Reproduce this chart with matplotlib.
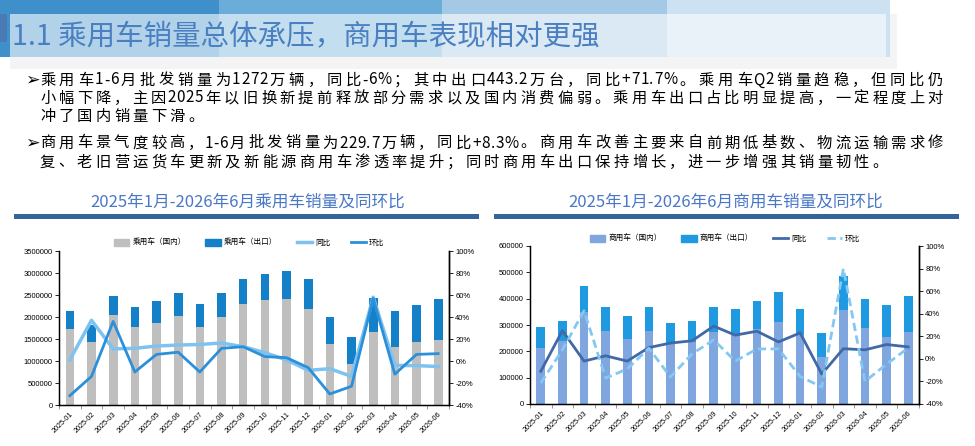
import numpy as np
import matplotlib
matplotlib.use('Agg')
import matplotlib.pyplot as plt
from matplotlib.patches import Rectangle, Patch
from matplotlib.lines import Line2D
from matplotlib.ticker import FuncFormatter, MultipleLocator

plt.rcParams['font.family'] = ['Noto Sans CJK SC', 'DejaVu Sans']
plt.rcParams['axes.unicode_minus'] = False

# ---- data ----
months = ['2025-01', '2025-02', '2025-03', '2025-04', '2025-05', '2025-06',
          '2025-07', '2025-08', '2025-09', '2025-10', '2025-11', '2025-12',
          '2026-01', '2026-02', '2026-03', '2026-04', '2026-05', '2026-06']

# 乘用车
pv_domestic = [1727000, 1432000, 2045000, 1773000, 1864000, 2023000, 1773000, 2000000, 2295000,
               2386000, 2409000, 2182000, 1386000, 932000, 1659000, 1318000, 1432000, 1477000]
pv_export = [417000, 379000, 432000, 454000, 500000, 522000, 522000, 545000, 569000,
             591000, 636000, 682000, 614000, 613000, 773000, 818000, 841000, 932000]
pv_yoy = [1, 37, 11, 11.5, 13.6, 14.5, 15, 16.4, 13, 7.6, 1, -8.5, -7, -14, 58, -4, -4.2, -5]
pv_mom = [-31.5, -14, 36, -10, 6, 8, -10, 11.5, 13, 4, 3, -6, -30, -23, 57, -12, 6, 6.7]

# 商用车
cv_domestic = [213000, 240000, 350000, 278000, 248000, 278000, 232000, 236000, 274000,
               267000, 285000, 312000, 263000, 179000, 357000, 289000, 255000, 274000]
cv_export = [80000, 76000, 98000, 91000, 87000, 91000, 76000, 80000, 95000,
             94000, 107000, 114000, 98000, 91000, 129000, 110000, 121000, 136000]
cv_yoy = [-11, 25, -2, 2.7, -2, 10, 14, 16, 29, 21, 24.5, 15, 23, -13.5, 9, 8, 12.7, 10.6]
cv_mom = [-21.5, 8, 42.7, -17, -9, 9.4, -16, 4.4, 16.8, -2, 8.8, 8.8, -15.6, -25, 80, -20, -4.7, 9.7]

title = '1.1 乘用车销量总体承压，商用车表现相对更强'
# (是否带项目符号, 文本, 是否两端对齐)
body = [
    (True, '乘用车1-6月批发销量为1272万辆，同比-6%；其中出口443.2万台，同比+71.7%。乘用车Q2销量趋稳，但同比仍', True),
    (False, '小幅下降，主因2025年以旧换新提前释放部分需求以及国内消费偏弱。乘用车出口占比明显提高，一定程度上对', True),
    (False, '冲了国内销量下滑。', False),
    (True, '商用车景气度较高，1-6月批发销量为229.7万辆，同比+8.3%。商用车改善主要来自前期低基数、物流运输需求修', True),
    (False, '复、老旧营运货车更新及新能源商用车渗透率提升；同时商用车出口保持增长，进一步增强其销量韧性。', False),
]
body_y = [80, 98, 116, 143, 162]

W, H = 975, 446
fig = plt.figure(figsize=(W / 100, H / 100), dpi=100)

# ---- background / header in pixel coords ----
bg = fig.add_axes([0, 0, 1, 1])
bg.set_xlim(0, W)
bg.set_ylim(H, 0)
bg.axis('off')

for x0, x1, c in [(0, 219, '#3f8fca'), (219, 442, '#6badd9'),
                  (442, 667, '#a3c9e6'), (667, 890, '#cce1f1')]:
    bg.add_patch(Rectangle((x0, 0), x1 - x0, 57, color=c, lw=0))
bg.add_patch(Rectangle((10, 57), 887, 12, color='#f4f4f4', lw=0))
bg.add_patch(Rectangle((890, 14), 7, 43, color='#f4f4f4', lw=0))
bg.add_patch(Rectangle((10, 14), 876, 43, color='white', alpha=0.6, lw=0))
bg.add_patch(Rectangle((0, 14), 7, 28, color='#4a7ab3', lw=0))

bg.text(12, 37, title, fontsize=20.5, color='#4a7fc1', va='center', ha='left')

# 正文：逐字排版，两端对齐到 x=40..943（中西文交界处半个间距，西文内部不加）
renderer = fig.canvas.get_renderer()
FS = 11
em = FS * 100 / 72
x_left, x_right = 40, 943


def is_cjk(ch):
    return ord(ch) > 0x2E80


def char_w(ch):
    if is_cjk(ch):
        return em
    t = bg.text(0, 0, ch, fontsize=FS)
    w = t.get_window_extent(renderer).width
    t.remove()
    return w * 1.08


def gap_weight(a, b):
    if is_cjk(a) and is_cjk(b):
        return 1.0
    if is_cjk(a) or is_cjk(b):
        return 0.4
    return 0.0


gap = 0
for (bullet, line, justify), y in zip(body, body_y):
    if bullet:
        bg.text(25, y, '➢', fontsize=12.5, va='center', ha='left', color='black',
                family=['DejaVu Sans'])
    widths = [char_w(ch) for ch in line]
    weights = [gap_weight(a, b) for a, b in zip(line[:-1], line[1:])] + [0.0]
    if justify:
        gap = (x_right - x_left - sum(widths)) / sum(weights)
    xc = x_left
    for ch, w, wt in zip(line, widths, weights):
        bg.text(xc, y, ch, fontsize=FS, va='center', ha='left', color='black')
        xc += w + gap * wt

bg.text(248, 202, '2025年1月-2026年6月乘用车销量及同环比', fontsize=12,
        color='#4a78c6', ha='center', va='center')
bg.text(726, 202, '2025年1月-2026年6月商用车销量及同环比', fontsize=12,
        color='#4a78c6', ha='center', va='center')
bg.add_patch(Rectangle((14, 214), 465, 5, color='#34659a', lw=0))
bg.add_patch(Rectangle((494, 214), 465, 5, color='#34659a', lw=0))


def draw_chart(rect, domestic, export, yoy, mom, ymax, ystep, colors, names,
               mom_dashed, legend_xy):
    ax = fig.add_axes(rect)
    x = np.arange(len(months))
    ax.bar(x, domestic, width=0.4, color=colors[0], zorder=2)
    ax.bar(x, export, width=0.4, bottom=domestic, color=colors[1], zorder=2)
    ax.set_xlim(-0.5, len(months) - 0.5)
    ax.set_ylim(0, ymax)
    ax.yaxis.set_major_locator(MultipleLocator(ystep))
    ax.yaxis.set_major_formatter(FuncFormatter(lambda v, p: f'{int(v)}'))
    ax.set_xticks(x)
    ax.set_xticklabels(months, rotation=45, ha='right', rotation_mode='anchor',
                       fontsize=5.2, family=['Liberation Sans'])
    ax.set_xticks(np.arange(-0.5, len(months), 1), minor=True)
    ax.tick_params(axis='x', which='major', length=0, pad=4)
    ax.tick_params(axis='x', which='minor', length=3, width=0.6, color='#888888')
    ax.tick_params(axis='y', length=3, width=0.6, labelsize=5.5, pad=1.5)
    for lab in ax.get_yticklabels():
        lab.set_family(['Liberation Sans'])
    ax.spines['top'].set_visible(False)
    for s in ['left', 'bottom', 'right']:
        ax.spines[s].set_linewidth(1.0)
        ax.spines[s].set_color('black')

    ax2 = ax.twinx()
    ax2.plot(x, yoy, color=colors[2], lw=colors[4], zorder=3)
    if mom_dashed:
        ax2.plot(x, mom, color=colors[3], lw=2, ls=(0, (3, 1.6)), zorder=3)
    else:
        ax2.plot(x, mom, color=colors[3], lw=2, zorder=3)
    ax2.set_ylim(-40, 100)
    ax2.yaxis.set_major_locator(MultipleLocator(20))
    ax2.yaxis.set_major_formatter(FuncFormatter(lambda v, p: f'{int(round(v))}%'))
    ax2.tick_params(axis='y', length=3, width=0.6, labelsize=5.5, pad=1.5)
    for lab in ax2.get_yticklabels():
        lab.set_family(['Liberation Sans'])
    ax2.spines['top'].set_visible(False)
    ax2.spines['right'].set_linewidth(1.0)

    handles = [Patch(color=colors[0]), Patch(color=colors[1]),
               Line2D([], [], color=colors[2], lw=colors[4]),
               Line2D([], [], color=colors[3], lw=2,
                      ls=(0, (3, 1.6)) if mom_dashed else '-')]
    fig.legend(handles, names, loc='center', ncol=4, frameon=False,
               bbox_to_anchor=(legend_xy[0] / W, 1 - legend_xy[1] / H),
               fontsize=5.5, handlelength=2.0, handleheight=0.9,
               handletextpad=0.4, columnspacing=2.6)
    return ax


draw_chart([59 / W, 41 / H, 390 / W, 154 / H], pv_domestic, pv_export, pv_yoy, pv_mom,
           3500000, 500000, ['#bfbfbf', '#1480c8', '#7ec3ef', '#2b90da', 2.5],
           ['乘用车（国内）', '乘用车（出口）', '同比', '环比'], False, (249, 243))

draw_chart([530 / W, 42 / H, 389 / W, 158 / H], cv_domestic, cv_export, cv_yoy, cv_mom,
           600000, 100000, ['#7fa6df', '#1f9ae0', '#4169a8', '#82c8f2', 2.0],
           ['商用车（国内）', '商用车（出口）', '同比', '环比'], True, (725, 239))

fig.savefig('out.png', dpi=100)
